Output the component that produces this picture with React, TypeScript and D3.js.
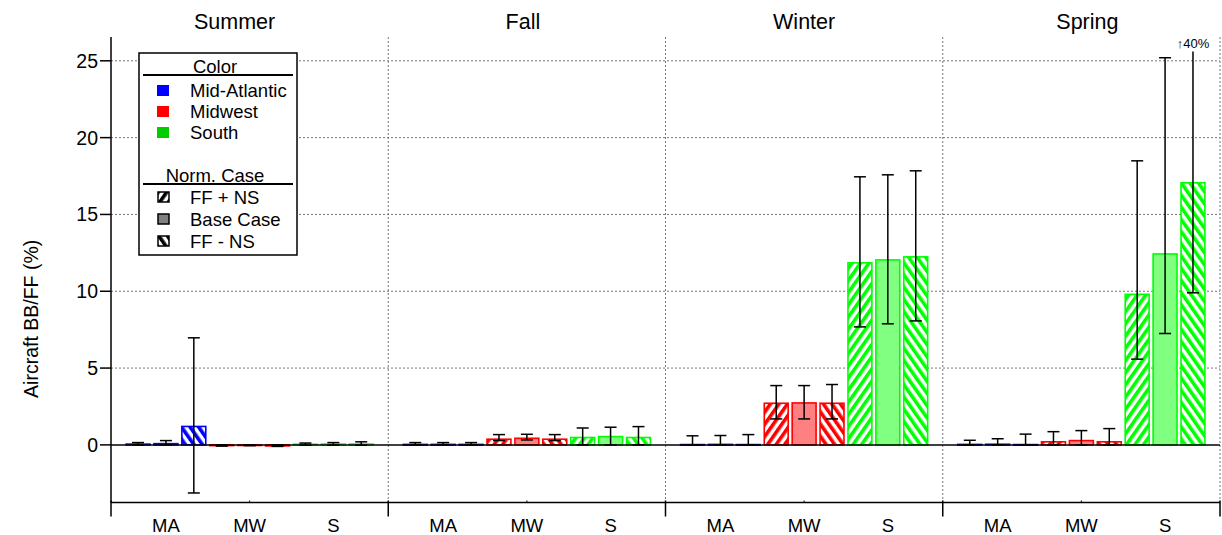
import React from "react";
import * as d3 from "d3";

const seasons = ["Summer", "Fall", "Winter", "Spring"];
const regions = ["MA", "MW", "S"];
const regionNames = ["Mid-Atlantic", "Midwest", "South"];
const cases = ["FF + NS", "Base Case", "FF - NS"];
const yTicks = [0, 5, 10, 15, 20, 25];

// values per season: [MA(FF+NS, Base, FF-NS), MW(...), S(...)]
const summerVals = [0.05, 0.08, 1.2, -0.05, -0.03, -0.07, 0.04, 0.05, 0.05];
const summerLo = [0, 0, -3.13, -0.08, -0.05, -0.1, -0.02, -0.02, -0.02];
const summerHi = [0.15, 0.28, 6.97, 0, 0, 0, 0.12, 0.15, 0.2];

const fallVals = [0.03, 0.03, 0.03, 0.37, 0.43, 0.37, 0.48, 0.54, 0.48];
const fallLo = [0, 0, 0, 0.28, 0.32, 0.28, 0, 0, 0];
const fallHi = [0.15, 0.15, 0.15, 0.67, 0.69, 0.67, 1.1, 1.15, 1.19];

const winterVals = [0.02, 0.03, 0.02, 2.71, 2.73, 2.71, 11.85, 12.04, 12.24];
const winterLo = [0, 0, 0, 1.69, 1.69, 1.69, 7.68, 7.88, 8.07];
const winterHi = [0.59, 0.61, 0.67, 3.86, 3.86, 3.93, 17.45, 17.58, 17.84];

const springVals = [0.03, 0.04, 0.02, 0.2, 0.28, 0.2, 9.8, 12.43, 17.06];
const springLo = [0, 0, 0, 0, 0, 0, 5.58, 7.25, 9.9];
const springHi = [0.3, 0.4, 0.7, 0.86, 0.93, 1.06, 18.49, 25.2, 40];

const seasonVals = [summerVals, fallVals, winterVals, springVals];
const seasonLo = [summerLo, fallLo, winterLo, springLo];
const seasonHi = [summerHi, fallHi, winterHi, springHi];

const regionColors = ["#0000FF", "#FF0000", "#00FF00"];
const regionLight = ["#8080FF", "#FF8080", "#80FF80"];
const legendColors = ["#0000FF", "#FF0000", "#00CC00"];

const W = 1222;
const H = 535;
const FONT = "'Liberation Sans', Arial, sans-serif";

export default function App() {
  const left = 111;
  const right = 1220;
  const top = 37;
  const bottom = 502.5;

  const y = d3.scaleLinear().domain([-3.75, 26.55]).range([bottom, top]);
  const xPanel = d3.scaleBand<string>().domain(seasons).range([left, right]).padding(0);
  const slots = d3.range(9).map(String);
  const xBar = d3
    .scaleBand<string>()
    .domain(slots)
    .range([0, xPanel.bandwidth()])
    .paddingInner(0.143)
    .paddingOuter(0.54);
  const bw = xBar.bandwidth();
  const titleOffsets = [-15, -4, 0, 6];

  const patId = (r: number, dir: number) => `pat-${r}-${dir}`;

  const patternDefs: React.ReactNode[] = [];
  const patColors = [...regionColors, "#000000"];
  patColors.forEach((c, i) => {
    [0, 1].forEach((dir) => {
      patternDefs.push(
        <pattern
          key={`${i}-${dir}`}
          id={patId(i, dir)}
          patternUnits="userSpaceOnUse"
          width={7}
          height={7}
          patternTransform={`rotate(${dir === 0 ? 35 : -35})`}
        >
          <rect x={0} y={0} width={7} height={7} fill="#fff" />
          <rect x={0} y={0} width={3.6} height={7} fill={c} />
        </pattern>
      );
    });
  });

  const bars: React.ReactNode[] = [];
  const errs: React.ReactNode[] = [];
  seasons.forEach((s, si) => {
    const x0 = xPanel(s)!;
    seasonVals[si].forEach((v, k) => {
      const r = Math.floor(k / 3);
      const c = k % 3;
      const bx = x0 + xBar(String(k))!;
      const y0 = y(0);
      const yv = y(v);
      const fill = c === 1 ? regionLight[r] : `url(#${patId(r, c === 0 ? 0 : 1)})`;
      bars.push(
        <rect
          key={`b-${si}-${k}`}
          x={bx}
          y={Math.min(y0, yv)}
          width={bw}
          height={Math.max(0.6, Math.abs(y0 - yv))}
          fill={fill}
          stroke={regionColors[r]}
          strokeWidth={1.6}
        />
      );
      const cx = bx + bw / 2;
      const lo = seasonLo[si][k];
      const hi = seasonHi[si][k];
      const clipped = hi > y.domain()[1];
      const yHi = clipped ? y(25.6) : y(hi);
      const yLo = y(lo);
      errs.push(
        <g key={`e-${si}-${k}`} stroke="#000" strokeWidth={1.5}>
          <line x1={cx} x2={cx} y1={yLo} y2={yHi} />
          <line x1={cx - 6} x2={cx + 6} y1={yLo} y2={yLo} />
          {!clipped && <line x1={cx - 6} x2={cx + 6} y1={yHi} y2={yHi} />}
          {clipped && (
            <text
              x={cx}
              y={yHi - 4}
              textAnchor="middle"
              fontSize={13}
              fontFamily={FONT}
              stroke="none"
              fill="#000"
            >
              {`↑${hi}%`}
            </text>
          )}
        </g>
      );
    });
  });

  const legendX = 139;
  const legendY = 53;
  const legendW = 158;
  const legendH = 202;
  const LF = 18.5;

  return (
    <svg width={W} height={H} style={{ position: "absolute", left: 0, top: 0 }} fontFamily={FONT}>
      <defs>{patternDefs}</defs>
      <rect x={0} y={0} width={W} height={H} fill="#fff" />
      {/* horizontal grid */}
      {yTicks
        .filter((t) => t !== 0)
        .map((t) => (
          <line
            key={`gh-${t}`}
            x1={left}
            x2={right}
            y1={y(t)}
            y2={y(t)}
            stroke="#777"
            strokeWidth={1}
            strokeDasharray="2,2"
          />
        ))}
      {/* vertical grid at panel boundaries */}
      {seasons.map((s) => (
        <line
          key={`gv-${s}`}
          x1={xPanel(s)! + xPanel.bandwidth()}
          x2={xPanel(s)! + xPanel.bandwidth()}
          y1={top}
          y2={bottom}
          stroke="#777"
          strokeWidth={1}
          strokeDasharray="2,2"
        />
      ))}
      {bars}
      <line x1={left} x2={right} y1={y(0)} y2={y(0)} stroke="#000" strokeWidth={1.5} />
      {errs}
      {/* y axis */}
      <line x1={left} x2={left} y1={top} y2={bottom} stroke="#000" strokeWidth={1.5} />
      {yTicks.map((t) => (
        <g key={`yt-${t}`}>
          <line x1={left - 11} x2={left} y1={y(t)} y2={y(t)} stroke="#000" strokeWidth={1.5} />
          <text x={left - 13} y={y(t) + 7} textAnchor="end" fontSize={19.5} fill="#000">
            {t}
          </text>
        </g>
      ))}
      <text
        transform={`translate(38,${(y(0) + y(25)) / 2 + 66}) rotate(-90)`}
        textAnchor="middle"
        fontSize={19.5}
        fill="#000"
      >
        Aircraft BB/FF (%)
      </text>
      {/* x axis */}
      <line x1={left} x2={right} y1={bottom} y2={bottom} stroke="#000" strokeWidth={1.5} />
      {seasons.map((s, si) => {
        const x0 = xPanel(s)!;
        return (
          <g key={`xa-${s}`}>
            <line x1={x0} x2={x0} y1={bottom - 2} y2={bottom + 14} stroke="#000" strokeWidth={1.5} />
            {si === seasons.length - 1 && (
              <line
                x1={x0 + xPanel.bandwidth()}
                x2={x0 + xPanel.bandwidth()}
                y1={bottom - 2}
                y2={bottom + 14}
                stroke="#000"
                strokeWidth={1.5}
              />
            )}
            <line
              x1={x0 + xPanel.bandwidth() / 2}
              x2={x0 + xPanel.bandwidth() / 2}
              y1={bottom - 2}
              y2={bottom}
              stroke="#000"
              strokeWidth={1}
            />
            {regions.map((r, ri) => {
              const cx = x0 + (xBar(String(ri * 3))! + xBar(String(ri * 3 + 2))! + bw) / 2;
              return (
                <text key={r} x={cx} y={532} textAnchor="middle" fontSize={18.5} fill="#000">
                  {r}
                </text>
              );
            })}
            <text
              x={x0 + xPanel.bandwidth() / 2 + titleOffsets[si]}
              y={29}
              textAnchor="middle"
              fontSize={21.5}
              fill="#000"
            >
              {s}
            </text>
          </g>
        );
      })}
      {/* legend */}
      <g>
        <rect
          x={legendX}
          y={legendY}
          width={legendW}
          height={legendH}
          fill="#fff"
          stroke="#000"
          strokeWidth={1.5}
        />
        <text x={legendX + 76} y={legendY + 20} textAnchor="middle" fontSize={LF} fill="#000">
          Color
        </text>
        <line x1={legendX + 4} x2={legendX + legendW - 4} y1={legendY + 22} y2={legendY + 22} stroke="#000" strokeWidth={2} />
        {regionNames.map((n, i) => (
          <g key={n}>
            <rect x={legendX + 18} y={legendY + 32 + i * 21} width={12} height={11} fill={legendColors[i]} />
            <text x={legendX + 51} y={legendY + 44 + i * 21} fontSize={LF} fill="#000">
              {n}
            </text>
          </g>
        ))}
        <text x={legendX + 76} y={legendY + 129} textAnchor="middle" fontSize={LF} fill="#000">
          Norm. Case
        </text>
        <line x1={legendX + 4} x2={legendX + legendW - 4} y1={legendY + 131} y2={legendY + 131} stroke="#000" strokeWidth={2} />
        {cases.map((n, i) => (
          <g key={n}>
            <rect
              x={legendX + 19}
              y={legendY + 139 + i * 22}
              width={11}
              height={10}
              fill={i === 1 ? "#808080" : `url(#${patId(3, i === 0 ? 0 : 1)})`}
              stroke="#000"
              strokeWidth={1.5}
            />
            <text x={legendX + 51} y={legendY + 151 + i * 22} fontSize={LF} fill="#000">
              {n}
            </text>
          </g>
        ))}
      </g>
    </svg>
  );
}
